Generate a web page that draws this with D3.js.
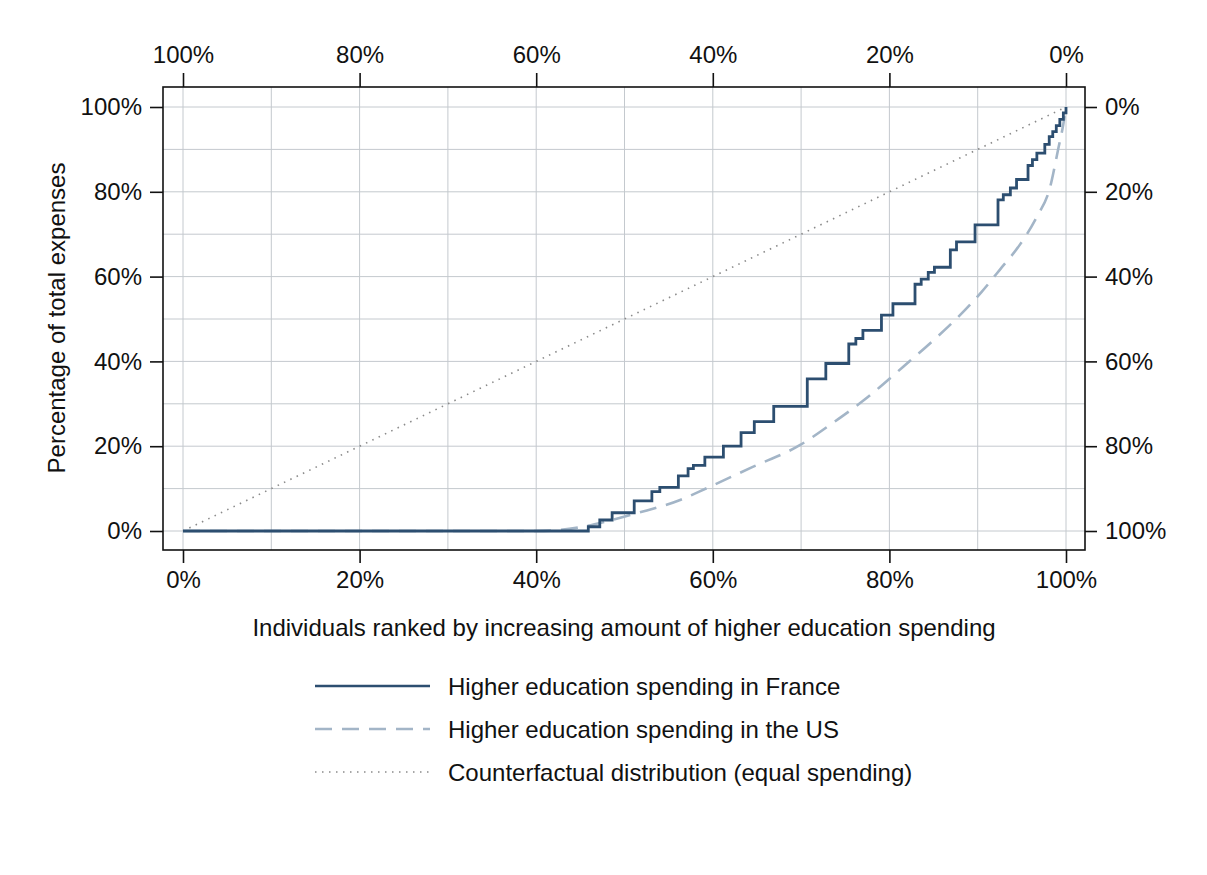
<!DOCTYPE html>
<html><head><meta charset="utf-8">
<script src="https://cdn.jsdelivr.net/npm/d3@7"></script>
<style>
body{margin:0;background:#fff;}
text{font-family:"Liberation Sans",Arial,sans-serif;fill:#111;}
</style></head><body>
<svg id="c" width="1207" height="875"></svg>
<script>
// France: step curve (x = % individuals, y = % of total expenses), each point is the level reached at x
const franceSteps = [
 [0,0],[45.9,0],[45.9,1.0],[47.2,1.0],[47.2,2.6],[48.6,2.6],[48.6,4.3],[51.1,4.3],[51.1,7.1],
 [53.1,7.1],[53.1,9.3],[54.0,9.3],[54.0,10.3],[56.1,10.3],[56.1,13.0],[57.2,13.0],[57.2,14.7],
 [57.8,14.7],[57.8,15.5],[59.1,15.5],[59.1,17.4],[61.2,17.4],[61.2,20.0],[63.2,20.0],[63.2,23.2],
 [64.7,23.2],[64.7,25.8],[66.9,25.8],[66.9,29.4],[70.7,29.4],[70.7,35.9],[72.8,35.9],[72.8,39.5],
 [75.4,39.5],[75.4,44.1],[76.2,44.1],[76.2,45.4],[77.0,45.4],[77.0,47.3],[79.1,47.3],[79.1,50.9],
 [80.4,50.9],[80.4,53.6],[82.9,53.6],[82.9,58.2],[83.6,58.2],[83.6,59.4],[84.4,59.4],[84.4,61.0],
 [85.1,61.0],[85.1,62.2],[86.9,62.2],[86.9,66.3],[87.6,66.3],[87.6,68.2],[89.7,68.2],[89.7,72.2],
 [92.3,72.2],[92.3,78.1],[92.9,78.1],[92.9,79.3],[93.7,79.3],[93.7,80.9],[94.4,80.9],[94.4,82.9],
 [95.7,82.9],[95.7,86.2],[96.2,86.2],[96.2,87.6],[96.7,87.6],[96.7,89.1],[97.6,89.1],[97.6,91.2],
 [98.1,91.2],[98.1,93.0],[98.5,93.0],[98.5,94.2],[98.9,94.2],[98.9,95.6],[99.3,95.6],[99.3,97.1],
 [99.7,97.1],[99.7,98.6],[100,98.6],[100,100]
];
// US: smooth concentration curve
const usPoints = [
 [0,0],[40,0],[42.4,0.2],[45,0.9],[48,2.3],[51.4,4.2],[56.3,7.3],[59.3,10.1],[64.4,15.0],
 [69.9,20.3],[73.6,25.5],[77.2,31.0],[81.6,38.8],[85.0,45.0],[87.8,50.5],[90.4,56.3],[92.5,61.6],
 [94.8,67.6],[96.7,74.1],[98.2,81.1],[99.1,89.9],[99.7,96.0],[100,100]
];
// Counterfactual: equal spending
const equalPoints = [[0,0],[100,100]];

const bottomTicks = [0,20,40,60,80,100];
const gridTicks = [0,10,20,30,40,50,60,70,80,90,100];
const legendLabels = ["Higher education spending in France","Higher education spending in the US","Counterfactual distribution (equal spending)"];

const colFrance = "#2c4e70", colUS = "#a3b5c7", colEq = "#8a8a8a", colGrid = "#c4c9ce";
const FS = "24px";

const svg = d3.select("#c");
const frame = {l:163, r:1085, t:87, b:550};
const x = d3.scaleLinear().domain([0,100]).range([183,1066]);
const y = d3.scaleLinear().domain([0,100]).range([531,107]);
const pct = d => d + "%";

// grid
const g = svg.append("g");
g.selectAll("line.v").data(gridTicks).join("line")
  .attr("x1",d=>x(d)).attr("x2",d=>x(d)).attr("y1",frame.t).attr("y2",frame.b)
  .attr("stroke",colGrid).attr("stroke-width",1);
g.selectAll("line.h").data(gridTicks).join("line")
  .attr("y1",d=>y(d)).attr("y2",d=>y(d)).attr("x1",frame.l).attr("x2",frame.r)
  .attr("stroke",colGrid).attr("stroke-width",1);

// axes
function styleAxis(sel){
  sel.select(".domain").remove();
  sel.selectAll(".tick line").attr("stroke","#111").attr("stroke-width",1.6);
  sel.selectAll(".tick text").style("font-size",FS).attr("fill","#111");
}
svg.append("g").attr("transform",`translate(0,${frame.b})`)
  .call(d3.axisBottom(x).tickValues(bottomTicks).tickFormat(pct).tickSize(13).tickPadding(8)).call(styleAxis);
svg.append("g").attr("transform",`translate(0,${frame.t})`)
  .call(d3.axisTop(x).tickValues(bottomTicks).tickFormat(d=>pct(100-d)).tickSize(14).tickPadding(10)).call(styleAxis);
svg.append("g").attr("transform",`translate(${frame.l},0)`)
  .call(d3.axisLeft(y).tickValues(bottomTicks).tickFormat(pct).tickSize(13).tickPadding(8)).call(styleAxis);
svg.append("g").attr("transform",`translate(${frame.r},0)`)
  .call(d3.axisRight(y).tickValues(bottomTicks).tickFormat(d=>pct(100-d)).tickSize(12).tickPadding(8)).call(styleAxis);

// frame
svg.append("rect").attr("x",frame.l).attr("y",frame.t).attr("width",frame.r-frame.l).attr("height",frame.b-frame.t)
  .attr("fill","none").attr("stroke","#111").attr("stroke-width",1.6);

const line = d3.line().x(d=>x(d[0])).y(d=>y(d[1]));
svg.append("path").datum(equalPoints).attr("d",line).attr("fill","none")
  .attr("stroke",colEq).attr("stroke-width",1.6).attr("stroke-dasharray","1.5,5.5");
svg.append("path").datum(usPoints).attr("d",d3.line().x(d=>x(d[0])).y(d=>y(d[1])).curve(d3.curveMonotoneX)).attr("fill","none")
  .attr("stroke",colUS).attr("stroke-width",2.6).attr("stroke-dasharray","17,10");
svg.append("path").datum(franceSteps).attr("d",line).attr("fill","none")
  .attr("stroke",colFrance).attr("stroke-width",2.8).attr("stroke-linejoin","miter");

// titles
svg.append("text").attr("x",624).attr("y",636).attr("text-anchor","middle").style("font-size",FS)
  .text("Individuals ranked by increasing amount of higher education spending");
svg.append("text").attr("transform",`translate(65,318) rotate(-90)`).attr("text-anchor","middle").style("font-size",FS)
  .text("Percentage of total expenses");

// legend
const lg = svg.append("g");
const styles = [{c:colFrance,w:2.6,d:null},{c:colUS,w:2.6,d:"17,10"},{c:colEq,w:1.6,d:"1.5,5.5"}];
legendLabels.forEach((t,i)=>{
  const yy = 686 + i*43;
  lg.append("line").attr("x1",315).attr("x2",430).attr("y1",yy).attr("y2",yy)
    .attr("stroke",styles[i].c).attr("stroke-width",styles[i].w).attr("stroke-dasharray",styles[i].d);
  lg.append("text").attr("x",448).attr("y",yy+8.5).style("font-size",FS).text(t);
});
</script></body></html>
